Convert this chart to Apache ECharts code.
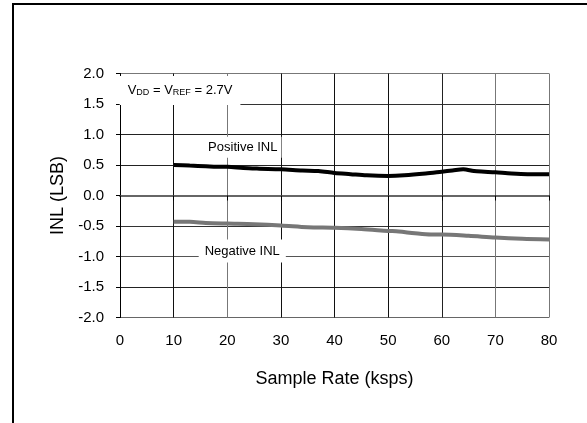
<!DOCTYPE html>
<html>
<head>
<meta charset="utf-8">
<script src="https://cdn.jsdelivr.net/npm/echarts@6/dist/echarts.min.js"></script>
<style>
html,body{margin:0;padding:0;background:#fff;}
#c{width:587px;height:423px;}
</style>
</head>
<body>
<div id="c"></div>
<script>
var posX = [10, 13, 16, 18, 20, 23, 26, 30, 34, 37, 40, 43, 46, 50, 53, 57, 60, 62, 64, 66, 68, 70, 73, 76, 80];
var posY = [0.50, 0.49, 0.48, 0.47, 0.47, 0.45, 0.44, 0.43, 0.41, 0.40, 0.37, 0.35, 0.33, 0.32, 0.33, 0.36, 0.39, 0.41, 0.43, 0.40, 0.39, 0.38, 0.36, 0.35, 0.35];
var negX = [10, 13, 16, 20, 25, 30, 35, 40, 45, 50, 52, 55, 58, 60, 65, 70, 75, 80];
var negY = [-0.43, -0.43, -0.45, -0.46, -0.47, -0.49, -0.52, -0.53, -0.55, -0.58, -0.59, -0.62, -0.64, -0.64, -0.66, -0.69, -0.71, -0.72];
var xTicks = [0, 10, 20, 30, 40, 50, 60, 70, 80];
var yTicks = [-2.0, -1.5, -1.0, -0.5, 0.0, 0.5, 1.0, 1.5, 2.0];
var xTitle = 'Sample Rate (ksps)';
var yTitle = 'INL (LSB)';
var posLabel = 'Positive INL';
var negLabel = 'Negative INL';

function pairs(xs, ys){ return xs.map(function(x,i){ return [x, ys[i]]; }); }

var FONT = '"Liberation Sans", Arial, sans-serif';
var chart = echarts.init(document.getElementById('c'));
chart.setOption({
  animation: false,
  backgroundColor: '#fff',
  grid: {left: 120, top: 73.5, width: 429, height: 244, containLabel: false},
  xAxis: {
    type: 'value', min: xTicks[0], max: xTicks[xTicks.length-1], interval: 10,
    name: xTitle, nameLocation: 'middle', nameGap: 53,
    nameTextStyle: {fontFamily: FONT, fontSize: 18, color: '#000'},
    axisLine: {show: true, lineStyle: {color: '#666', width: 2}},
    axisTick: {show: true, length: 5, lineStyle: {color: '#000', width: 1}},
    axisLabel: {fontFamily: FONT, fontSize: 15, color: '#000', margin: 16},
    splitLine: {show: true, lineStyle: {width: 1, color: ['#000', '#111', '#777', '#111', '#111', '#111', '#222', '#777', '#777']}}
  },
  yAxis: {
    type: 'value', min: yTicks[0], max: yTicks[yTicks.length-1], interval: 0.5,
    name: yTitle, nameLocation: 'middle', nameGap: 52, nameRotate: 90,
    nameTextStyle: {fontFamily: FONT, fontSize: 18, color: '#000'},
    axisLine: {show: true, lineStyle: {color: '#000', width: 1}},
    axisTick: {show: true, length: 4, lineStyle: {color: '#000', width: 1}},
    axisLabel: {fontFamily: FONT, fontSize: 15, color: '#000', margin: 16,
      formatter: function(v){ return v.toFixed(1); }},
    splitLine: {show: true, lineStyle: {width: 1, color: ['#666', '#222', '#555', '#333', '#222', '#222', '#222', '#333', '#777']}}
  },
  series: [
    {
      type: 'line', data: pairs(posX, posY), showSymbol: false, smooth: 0.3,
      lineStyle: {color: '#000', width: 4}, z: 5,
      markPoint: {
        symbol: 'rect', symbolSize: 0, silent: true,
        label: {show: true, position: 'inside'},
        data: [
          {coord: [22.9, 0.79], value: posLabel,
           label: {formatter: posLabel, fontFamily: FONT, fontSize: 13, color: '#000', backgroundColor: '#fff', padding: [4, 4, 4, 4]}},
          {coord: [11.2, 1.72], value: 'v',
           label: {formatter: 'V{s|DD} = V{s|REF} = 2.7V', fontFamily: FONT, fontSize: 13, color: '#000', backgroundColor: '#fff', padding: [8, 8, 8, 8],
             rich: {s: {fontFamily: FONT, fontSize: 9, color: '#000', verticalAlign: 'bottom', padding: [4, 0, 0, 0]}}}}
        ]
      }
    },
    {
      type: 'line', data: pairs(negX, negY), showSymbol: false, smooth: 0.3,
      lineStyle: {color: '#777', width: 4}, z: 4,
      markPoint: {
        symbol: 'rect', symbolSize: 0, silent: true,
        label: {show: true, position: 'inside'},
        data: [
          {coord: [22.8, -0.91], value: negLabel,
           label: {formatter: negLabel, fontFamily: FONT, fontSize: 13, color: '#000', backgroundColor: '#fff', padding: [5, 6, 5, 6]}}
        ]
      }
    }
  ],
  graphic: [
    {type: 'line', shape: {x1: 13, y1: 3, x2: 13, y2: 423}, style: {stroke: '#000', lineWidth: 2}},
    {type: 'line', shape: {x1: 12, y1: 4, x2: 587, y2: 4}, style: {stroke: '#000', lineWidth: 2}}
  ]
});
</script>
</body>
</html>
